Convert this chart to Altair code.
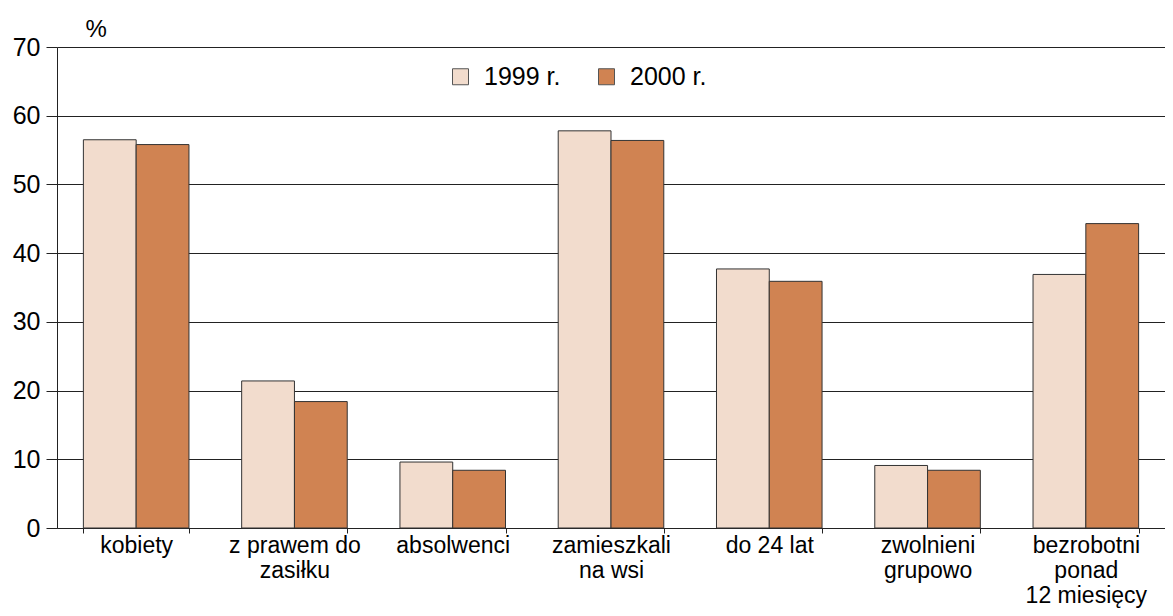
import altair as alt
import pandas as pd

categories = ["kobiety", "z prawem do|zasiłku", "absolwenci", "zamieszkali|na wsi",
              "do 24 lat", "zwolnieni|grupowo", "bezrobotni|ponad|12 miesięcy"]
v1999 = [56.5, 21.4, 9.6, 57.8, 37.7, 9.1, 36.9]
v2000 = [55.8, 18.4, 8.4, 56.4, 35.9, 8.4, 44.3]
years = ["1999 r.", "2000 r."]
colors = ["#F2DCCD", "#D08352"]
y_ticks = [0, 10, 20, 30, 40, 50, 60, 70]

rows = []
for c, a, b in zip(categories, v1999, v2000):
    rows.append({"cat": c, "year": years[0], "val": a})
    rows.append({"cat": c, "year": years[1], "val": b})
df = pd.DataFrame(rows)

FONT = "Liberation Sans"

chart = alt.Chart(df).mark_bar(stroke="#333333", strokeWidth=1).encode(
    x=alt.X("cat:N", sort=categories, title=None,
            scale=alt.Scale(paddingInner=0.333, paddingOuter=0.1667),
            axis=alt.Axis(labelAngle=0, labelExpr="split(datum.label, '|')",
                          tickBand="extent", tickSize=5, tickColor="#222222",
                          domainColor="#222222", labelFontSize=23, labelFont=FONT,
                          labelColor="#000000", labelPadding=1, labelLineHeight=25,
                          labelBaseline="top", grid=False)),
    xOffset=alt.XOffset("year:N", sort=years,
                        scale=alt.Scale(paddingInner=0, paddingOuter=0)),
    y=alt.Y("val:Q", scale=alt.Scale(domain=[0, 70], nice=False),
            axis=alt.Axis(values=y_ticks, title="%", titleAngle=0, titleX=28, titleY=-11,
                          titleAlign="left", titleBaseline="alphabetic",
                          titleFontSize=24, titleFontWeight="normal", titleFont=FONT,
                          titleColor="#000000",
                          tickSize=11, tickColor="#222222", labelPadding=6,
                          labelFontSize=25, labelFont=FONT, labelColor="#000000",
                          domainColor="#222222", grid=True, gridColor="#222222",
                          gridWidth=1, gridOpacity=1)),
    color=alt.Color("year:N", scale=alt.Scale(domain=years, range=colors),
                    legend=alt.Legend(title=None, orient="none", legendX=391, legendY=17,
                                      direction="horizontal", symbolType="square",
                                      symbolSize=256, symbolStrokeColor="#555555",
                                      symbolStrokeWidth=1, labelFontSize=25,
                                      labelFont=FONT, labelColor="#000000",
                                      labelOffset=11, columnPadding=33, padding=0)),
).properties(
    width=1108, height=481,
    autosize=alt.AutoSizeParams(type="none"),
    padding={"left": 49, "top": 39, "right": 0, "bottom": 81},
).configure_view(
    fill="#CFCFCF", strokeWidth=0
).configure(background="#FFFFFF")

chart.save("out.html", embed_options={"renderer": "svg", "actions": False})
